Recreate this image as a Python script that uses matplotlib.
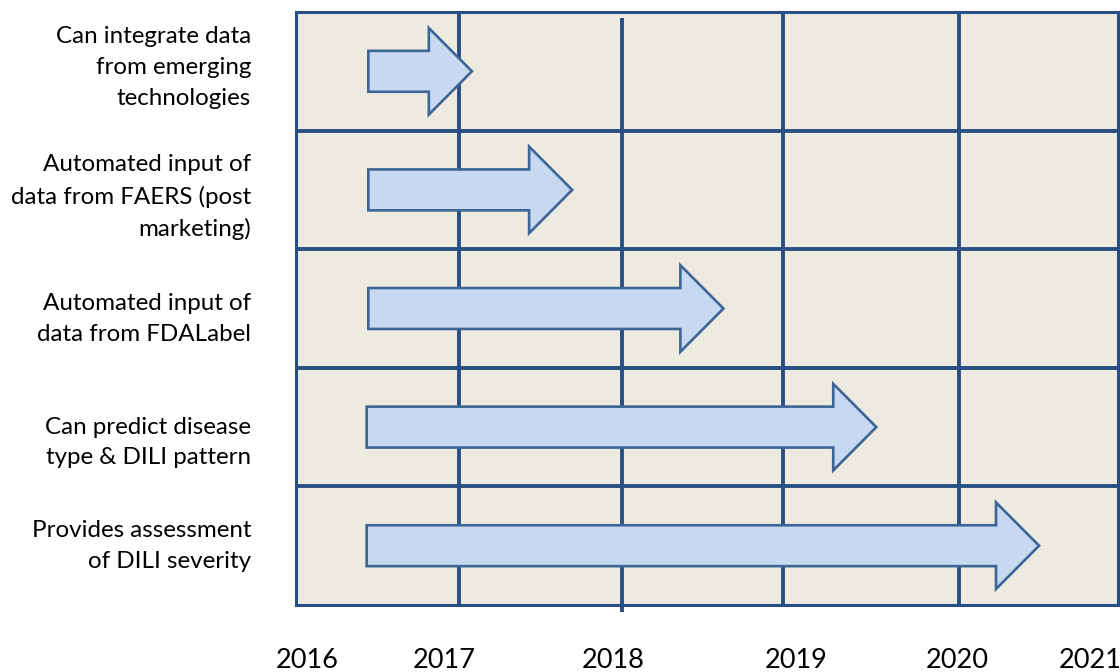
import matplotlib
matplotlib.use("Agg")
import matplotlib.pyplot as plt
from matplotlib.patches import FancyArrow

# ---- data ----
capabilities = [
    "Can integrate data\nfrom emerging\ntechnologies",
    "Automated input of\ndata from FAERS (post\nmarketing)",
    "Automated input of\ndata from FDALabel",
    "Can predict disease\ntype & DILI pattern",
    "Provides assessment\nof DILI severity",
]
arrow_start = [2016.44, 2016.44, 2016.44, 2016.43, 2016.43]
arrow_end = [2017.07, 2017.68, 2018.60, 2019.53, 2020.52]
year_labels = ["2016", "2017", "2018", "2019", "2020", "2021"]
year_label_pos = [2016.07, 2016.90, 2017.93, 2019.04, 2020.02, 2020.83]
grid_years = [2016.99, 2017.98, 2018.96, 2020.03]

BG = "#EDEAE0"
GRID = "#284F83"
FILL = "#C6D9F1"
EDGE = "#3D6595"

plt.rcParams['font.family'] = ['Lato', 'DejaVu Sans']

fig = plt.figure(figsize=(11.2, 6.72), dpi=100)
ax = fig.add_axes([296 / 1120, 1 - 605 / 672, (1118 - 296) / 1120, (605 - 12) / 672])
ax.set_xlim(2016, 2021)
ax.set_ylim(len(capabilities), 0)
ax.set_facecolor(BG)
ax.set_xticks([])
ax.set_yticks([])
for s in ax.spines.values():
    s.set_color(GRID)
    s.set_linewidth(2.2)

# horizontal row separators
for i in range(1, len(capabilities)):
    ax.axhline(i, color=GRID, lw=2.8, zorder=1)
# vertical year lines
for k, gx in enumerate(grid_years):
    if k == 1:
        ax.plot([gx, gx], [0.05, len(capabilities) + 0.06], color=GRID, lw=2.8,
                zorder=1, clip_on=False, solid_capstyle='butt')
    else:
        ax.axvline(gx, color=GRID, lw=2.8, zorder=1)

# arrows
for i, (x0, x1) in enumerate(zip(arrow_start, arrow_end)):
    yc = i + 0.5
    arr = FancyArrow(x0, yc, x1 - x0, 0, width=0.345, head_width=0.73,
                     head_length=0.262, length_includes_head=True,
                     facecolor=FILL, edgecolor=EDGE, lw=1.9, zorder=3,
                     joinstyle='miter')
    ax.add_patch(arr)

# left labels
label_offsets = [-0.03, 0.06, 0.09, 0.13, 0.0]
for i, txt in enumerate(capabilities):
    ax.text(-45 / 164.4 + 2016, i + 0.5 + label_offsets[i], txt, ha='right', va='center',
            fontsize=17.4, color='black', linespacing=1.58, clip_on=False)

# year labels
for lbl, xp in zip(year_labels, year_label_pos):
    ax.text(xp, -0.093, lbl, transform=ax.get_xaxis_transform(), ha='center', va='center',
            fontsize=19.5, color='black', clip_on=False)

fig.savefig("out.png", dpi=100, facecolor='white')
